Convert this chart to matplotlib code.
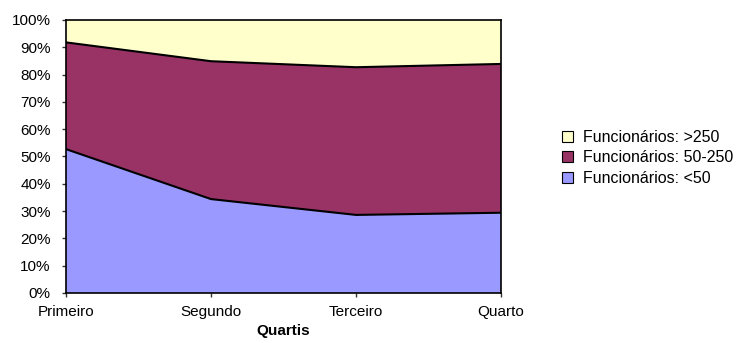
import numpy as np
import matplotlib
matplotlib.use('Agg')
import matplotlib.pyplot as plt
from matplotlib.patches import Patch
from matplotlib.ticker import PercentFormatter

matplotlib.rcParams['font.family'] = ['Liberation Sans', 'DejaVu Sans']
matplotlib.rcParams['font.size'] = 11

# dados (percentagens)
quartis = ['Primeiro', 'Segundo', 'Terceiro', 'Quarto']
menos50 = [52.7, 34.4, 28.6, 29.4]
de50a250 = [39.1, 50.5, 54.1, 54.5]
mais250 = [8.2, 15.1, 17.3, 16.1]
labels = ['Funcionários: <50', 'Funcionários: 50-250', 'Funcionários: >250']
colors = ['#9999FF', '#993366', '#FFFFCC']

fig = plt.figure(figsize=(7.39, 3.43), dpi=100, facecolor='w')
ax = fig.add_axes([0.0893, 0.1458, 0.5887, 0.7959])

x = np.arange(len(quartis))
series = [menos50, de50a250, mais250]
base = np.zeros(len(quartis))
for s, c in zip(series, colors):
    top = base + np.array(s)
    ax.fill_between(x, base, top, facecolor=c, edgecolor='none', zorder=1)
    base = top
# black boundary lines between the layers
cum = np.cumsum(np.array(series), axis=0)
for row in cum[:-1]:
    ax.plot(x, row, color='black', linewidth=1.5, zorder=2)

ax.set_xlim(0, len(quartis) - 1)
ax.set_ylim(0, 100)
ax.set_xticks(x)
ax.set_xticklabels(quartis)
ax.set_yticks(np.arange(0, 101, 10))
ax.yaxis.set_major_formatter(PercentFormatter(decimals=0))
ax.tick_params(direction='out', length=3, width=1, color='#333333')
ax.tick_params(axis='y', pad=8)
ax.tick_params(axis='x', pad=6)
for sp in ax.spines.values():
    sp.set_linewidth(1.2)
    sp.set_zorder(3)
ax.set_xlabel('Quartis', fontweight='bold', labelpad=3)

handles = [Patch(facecolor=c, edgecolor='black', linewidth=0.8, label=l)
           for c, l in zip(colors, labels)]
fig.legend(handles[::-1], labels[::-1], loc='center left',
           bbox_to_anchor=(0.741, 0.54), frameon=False,
           handlelength=0.7, handleheight=0.7, handletextpad=0.6,
           labelspacing=0.35, fontsize=11.5)

plt.savefig('out.png', dpi=100)
